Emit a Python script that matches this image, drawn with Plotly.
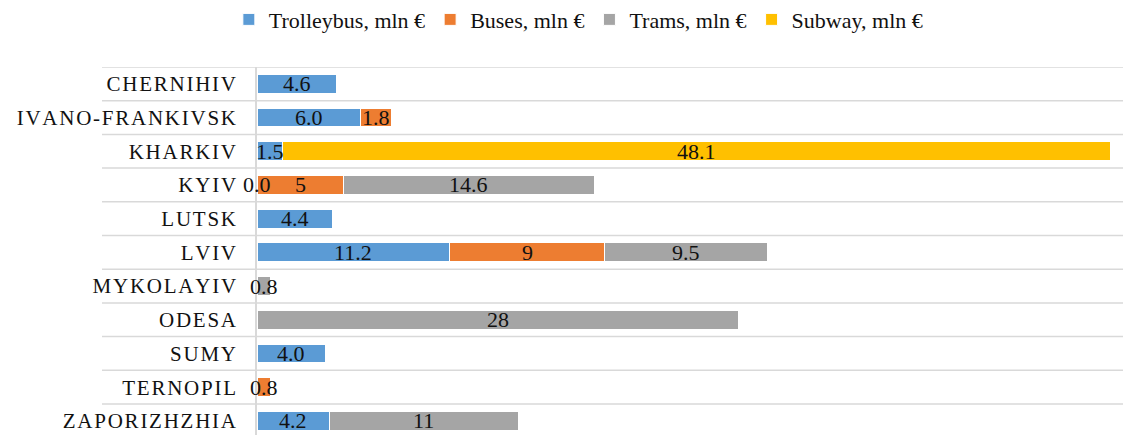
import plotly.graph_objects as go

cities = ["CHERNIHIV", "IVANO-FRANKIVSK", "KHARKIV", "KYIV", "LUTSK", "LVIV",
          "MYKOLAYIV", "ODESA", "SUMY", "TERNOPIL", "ZAPORIZHZHIA"]

trolleybus = [4.6, 6.0, 1.5, 0.0, 4.4, 11.2, None, None, 4.0, None, 4.2]
buses      = [None, 1.8, None, 5, None, 9, None, None, None, 0.8, None]
trams      = [None, None, None, 14.6, None, 9.5, 0.8, 28, None, None, 11]
subway     = [None, None, 48.1, None, None, None, None, None, None, None, None]

trolleybus_lbl = ["4.6", "6.0", "1.5", "0.0", "4.4", "11.2", "", "", "4.0", "", "4.2"]
buses_lbl      = ["", "1.8", "", "5", "", "9", "", "", "", "0.8", ""]
trams_lbl      = ["", "", "", "14.6", "", "9.5", "0.8", "28", "", "", "11"]
subway_lbl     = ["", "", "48.1", "", "", "", "", "", "", "", ""]

series = [
    ("Trolleybus, mln €", trolleybus, trolleybus_lbl, "#5B9BD5"),
    ("Buses, mln €", buses, buses_lbl, "#ED7D31"),
    ("Trams, mln €", trams, trams_lbl, "#A5A5A5"),
    ("Subway, mln €", subway, subway_lbl, "#FFC000"),
]

FONT = "Liberation Serif, Times New Roman, serif"
HS = "\u200a"
tick_text = [HS.join(list(c)) for c in cities]

fig = go.Figure()
annotations = []
base = [0.0] * len(cities)
for name, vals, lbls, color in series:
    fig.add_trace(go.Bar(
        y=cities, x=[v if v is not None else 0 for v in vals], name=name,
        orientation="h", marker=dict(color=color, line=dict(color="white", width=1)),
        hoverinfo="x+y+name",
    ))
    for i, (v, l) in enumerate(zip(vals, lbls)):
        if v is None:
            continue
        if l:
            annotations.append(dict(
                x=base[i] + v / 2, y=cities[i], xref="x", yref="y", text=l,
                showarrow=False, font=dict(family=FONT, size=22, color="#111111"),
                xanchor="center", yanchor="middle",
            ))
        base[i] += v

shapes = []
for i in range(len(cities)):
    shapes.append(dict(
        type="line", xref="paper", yref="y", x0=-0.179, x1=1.0,
        y0=i - 0.5, y1=i - 0.5, line=dict(color="#d9d9d9", width=1.5), layer="below",
    ))

fig.update_layout(
    width=1123, height=435,
    margin=dict(l=257, r=0, t=67, b=0),
    barmode="stack", bargap=0.44,
    plot_bgcolor="white", paper_bgcolor="white",
    font=dict(family=FONT, size=21, color="#111111"),
    showlegend=True,
    legend=dict(orientation="h", xref="container", yref="container",
                x=0.515, xanchor="center", y=0.955, yanchor="middle",
                font=dict(family=FONT, size=22, color="#111111"),
                itemwidth=30, traceorder="normal", tracegroupgap=0,
                itemclick=False),
    annotations=annotations,
    shapes=shapes,
)
fig.update_xaxes(range=[0, 50.35], showgrid=False, zeroline=False,
                 showticklabels=False, showline=False, fixedrange=True,
                 automargin=False)
fig.update_yaxes(range=[10.42, -0.5], categoryorder="array", categoryarray=cities,
                 tickmode="array", tickvals=cities, ticktext=tick_text,
                 showgrid=False, zeroline=False, showline=True,
                 linecolor="#d9d9d9", linewidth=1.5, ticks="",
                 ticklabelstandoff=15, automargin=False,
                 tickfont=dict(family=FONT, size=21, color="#111111"))

fig.write_html("out.html", config={"displayModeBar": False},
               post_script="document.body.style.margin='0';document.body.style.overflow='hidden';")
